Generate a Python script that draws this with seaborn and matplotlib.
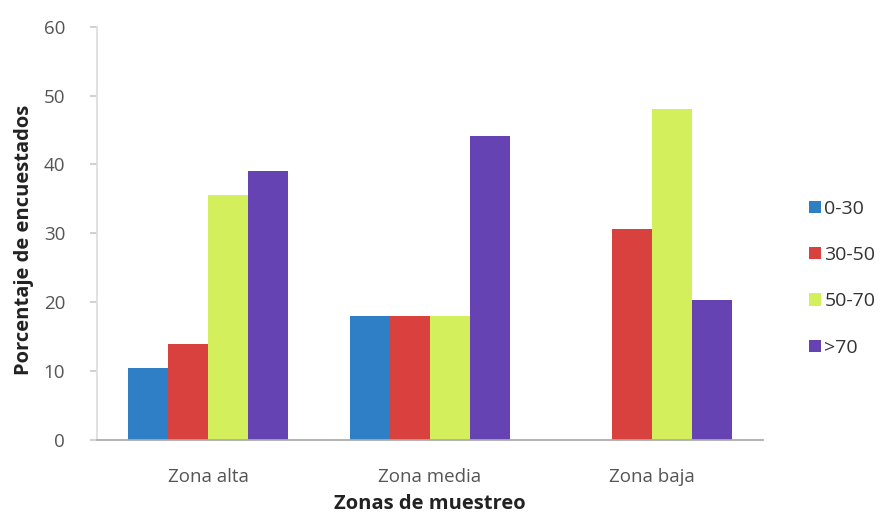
import pandas as pd
import matplotlib.pyplot as plt
import seaborn as sns

# --- DATA ---
ZONES = ['Zona alta', 'Zona media', 'Zona baja']
AGE_GROUPS = ['0-30', '30-50', '50-70', '>70']
PCT_0_30 = [10.5, 18, 0]
PCT_30_50 = [14, 18, 30.7]
PCT_50_70 = [35.5, 18, 48]
PCT_70_UP = [39, 44.2, 20.3]

COLORS = ['#2f7fc6', '#d8413d', '#d3ef5c', '#6543b3']

rows = []
for group, vals in zip(AGE_GROUPS, [PCT_0_30, PCT_30_50, PCT_50_70, PCT_70_UP]):
    for zone, v in zip(ZONES, vals):
        rows.append({'Zona': zone, 'Edad': group, 'Pct': v})
df = pd.DataFrame(rows)

sns.set_theme(style='white')
plt.rcParams['font.family'] = ['Open Sans', 'DejaVu Sans']

fig = plt.figure(figsize=(8.9, 5.25), dpi=100)
ax = fig.add_axes([0.109, 0.162, 0.748, 0.787])

sns.barplot(data=df, x='Zona', y='Pct', hue='Edad', order=ZONES,
            hue_order=AGE_GROUPS, palette=COLORS, width=0.72,
            saturation=1, errorbar=None, linewidth=0, ax=ax)

ax.set_ylim(0, 60)
ax.set_xlim(-0.5, 2.5)
ax.set_yticks(range(0, 61, 10))
ax.tick_params(axis='y', length=5, color='#cccccc', labelsize=13.5,
               labelcolor='#555555', pad=18, left=True)
ax.tick_params(axis='x', length=0, labelsize=13.5, labelcolor='#555555', pad=20)

for side in ['top', 'right']:
    ax.spines[side].set_visible(False)
ax.spines['left'].set_color('#dddddd')
ax.spines['bottom'].set_color('#aaaaaa')

ax.set_ylabel('Porcentaje de encuestados', fontsize=14.5, fontweight='bold',
              color='#222222', labelpad=4)
ax.yaxis.set_label_coords(-0.095, 0.485)
ax.set_xlabel('Zonas de muestreo', fontsize=14.5, fontweight='bold',
              color='#222222', labelpad=6)

handles, labels = ax.get_legend_handles_labels()
ax.legend(handles, labels, loc='center left', bbox_to_anchor=(0.898, 0.47),
          bbox_transform=fig.transFigure, frameon=False, fontsize=14,
          handlelength=0.6, handleheight=0.6, handletextpad=0.2,
          labelspacing=1.45, labelcolor='#333333', borderpad=0)

plt.savefig('out.png', dpi=100)
